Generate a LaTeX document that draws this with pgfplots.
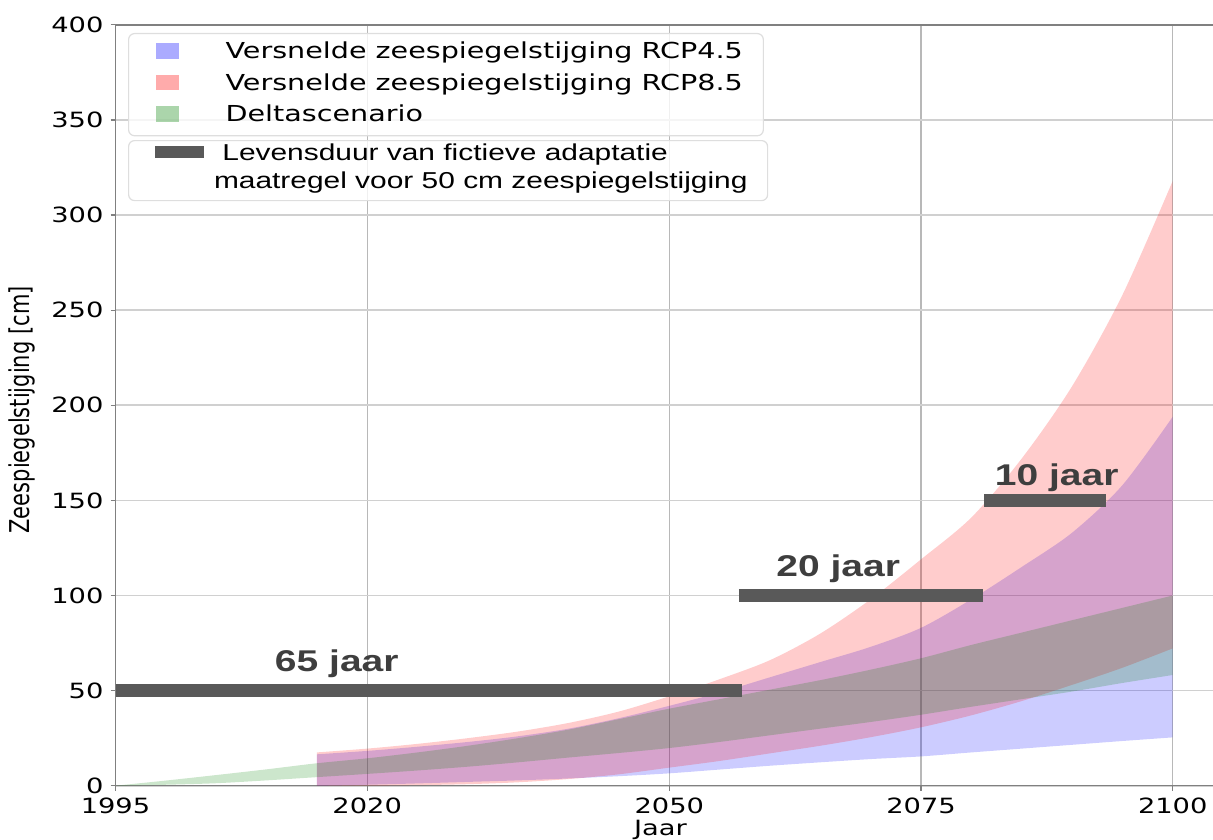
\documentclass[border=0pt]{standalone}
\usepackage{fontspec}
\setmainfont{DejaVu Sans}[FakeStretch=1.3]
\newfontfamily\dvplain{DejaVu Sans}
\newfontfamily\arialS{Liberation Sans}[FakeStretch=1.3]
\usepackage{graphicx}
\usepackage{pgfplots}
\usepackage{pgfplotstable}
\pgfplotsset{compat=1.18}
\usepgfplotslibrary{fillbetween}

\definecolor{mplblue}{RGB}{0,0,255}
\definecolor{mplred}{RGB}{255,0,0}
\definecolor{mplgreen}{RGB}{0,128,0}
\definecolor{bargray}{RGB}{89,89,89}
\definecolor{txtgray}{RGB}{62,62,62}
\definecolor{spine}{RGB}{128,128,128}
\definecolor{gridv}{RGB}{184,184,184}
\definecolor{gridh}{RGB}{208,208,208}
\definecolor{legframe}{RGB}{222,222,222}

% RCP4.5
\pgfplotstableread{
year lo hi
2015 0.0 16.5
2020 0.5 18.3
2025 1.2 20.5
2030 2.0 23.0
2035 2.8 26.0
2040 3.8 30.0
2045 5.0 35.5
2050 6.5 42.0
2055 8.5 49.0
2060 10.5 57.0
2065 12.3 65.0
2070 14.0 73.0
2075 15.4 83.0
2080 17.5 98.0
2085 19.5 115.0
2090 21.5 133.0
2095 23.5 158.0
2100 25.4 194.0
}\blueband

% RCP8.5
\pgfplotstableread{
year lo hi
2015 0.0 17.5
2020 0.0 19.5
2025 0.3 22.0
2030 0.8 25.0
2035 1.8 28.5
2040 3.5 33.0
2045 6.0 39.0
2050 9.5 47.0
2055 13.0 56.0
2060 17.0 66.0
2065 21.0 80.0
2070 25.5 98.0
2075 30.7 119.0
2080 37.0 141.0
2085 44.5 172.0
2090 53.0 210.0
2095 62.0 258.0
2100 72.2 318.0
}\redband

% Deltascenario
\pgfplotstableread{
year lo hi
1995 0.0 0.0
2000 0.5 2.7
2005 1.3 5.6
2010 2.8 8.6
2015 4.5 11.8
2020 6.2 14.4
2025 8.0 17.5
2030 10.0 21.0
2035 12.3 25.0
2040 14.8 29.5
2045 17.2 35.0
2050 19.8 40.5
2055 23.0 45.5
2060 26.5 50.5
2065 30.0 55.5
2070 33.5 61.0
2075 37.3 67.0
2080 41.5 74.0
2085 45.5 80.5
2090 49.5 87.0
2095 54.0 93.5
2100 58.2 100.0
}\greenband

\pgfplotsset{mylegend/.style={legend image code/.code={%
  \fill[##1, draw=none, sharp corners, fill opacity=0.33] (0pt,0pt) rectangle (11.5pt,7.8pt);
  \path (-3.25pt,0pt) (35pt,0pt);}}}

\begin{document}
\begin{tikzpicture}
\begin{axis}[
  name=ax,
  scale only axis, width=548.75pt, height=380.4pt,
  xmin=1995, xmax=2104, ymin=0, ymax=400,
  axis y line*=left,
  xtick={1995,2020,2050,2075,2100},
  ytick={0,50,...,400},
  xtick pos=lower, ytick pos=left,
  tick align=outside, major tick length=2.5pt,
  tick style={spine, line width=0.6pt},
  axis line style={spine, line width=0.75pt},
  grid=major,
  x grid style={gridv, line width=0.6pt},
  y grid style={gridh, line width=0.8pt},
  /pgf/number format/assume math mode=true,
  /pgf/number format/1000 sep={},
  ticklabel style={font=\fontsize{10.5}{12}\selectfont},
  xlabel={Jaar},
  xlabel style={at={(axis description cs:0.4966,0)}, anchor=base, yshift=-24.65pt, font=\fontsize{10.5}{12}\selectfont},
  ylabel={\scalebox{1}[1.3]{\dvplain\fontsize{10.5}{12}\selectfont Zeespiegelstijging [cm]}},
  ylabel style={at={(axis description cs:-0.0852,0.494)}, anchor=center},
  legend style={at={(axis description cs:0.0114,0.9894)}, anchor=north west,
    draw=legframe, line width=0.6pt, rounded corners=3pt, fill=white,
    fill opacity=0.8, text opacity=1, draw opacity=1,
    inner xsep=10.25pt, inner ysep=4.6pt, row sep=5.2pt, column sep=0pt,
    font=\fontsize{11}{13}\selectfont,
    nodes={inner sep=0pt, text height=8pt, text depth=2.5pt, anchor=base west}},
  legend cell align=left,
]
\addplot[draw=none, smooth, name path=bl, forget plot] table[x=year,y=lo]{\blueband};
\addplot[draw=none, smooth, name path=bu, forget plot] table[x=year,y=hi]{\blueband};
\addplot[fill=mplblue, fill opacity=0.2, draw=none, mylegend] fill between[of=bu and bl];
\addlegendentry{Versnelde zeespiegelstijging RCP4.5}

\addplot[draw=none, smooth, name path=rl, forget plot] table[x=year,y=lo]{\redband};
\addplot[draw=none, smooth, name path=ru, forget plot] table[x=year,y=hi]{\redband};
\addplot[fill=mplred, fill opacity=0.2, draw=none, mylegend] fill between[of=ru and rl];
\addlegendentry{Versnelde zeespiegelstijging RCP8.5}

\addplot[draw=none, smooth, name path=gl, forget plot] table[x=year,y=lo]{\greenband};
\addplot[draw=none, smooth, name path=gu, forget plot] table[x=year,y=hi]{\greenband};
\addplot[fill=mplgreen, fill opacity=0.2, draw=none, mylegend] fill between[of=gu and gl];
\addlegendentry{Deltascenario}

% lifetime bars
\addplot[bargray, line width=6.15pt, forget plot] coordinates {(1995,50) (2057.2,50)};
\addplot[bargray, line width=6.15pt, forget plot] coordinates {(2056.9,100) (2081.2,100)};
\addplot[bargray, line width=6.15pt, forget plot] coordinates {(2081.3,150) (2093.4,150)};

\node[anchor=base west, inner sep=0pt, text=txtgray, font=\arialS\bfseries\fontsize{15}{18}\selectfont] at (axis cs:2010.8,60) {65 jaar};
\node[anchor=base west, inner sep=0pt, text=txtgray, font=\arialS\bfseries\fontsize{15}{18}\selectfont] at (axis cs:2060.6,110) {20 jaar};
\node[anchor=base west, inner sep=0pt, text=txtgray, font=\arialS\bfseries\fontsize{15}{18}\selectfont] at (axis cs:2082.3,158) {10 jaar};

\node[draw=legframe, line width=0.6pt, rounded corners=3pt, fill=white, fill opacity=0.8,
  text opacity=1, draw opacity=1, minimum width=319.5pt, minimum height=30pt,
  inner sep=0pt, anchor=north west] (L2) at (axis description cs:0.0114,0.8487) {};
\end{axis}
\node[anchor=north west, inner sep=0pt] at ([shift={(13.5pt,-3pt)}]L2.north west) {\textcolor{bargray}{\rule{24.5pt}{6pt}}};
\node[anchor=base west, inner sep=0pt, font=\arialS\fontsize{11.5}{14}\selectfont] at ([shift={(47pt,-10pt)}]L2.north west) {Levensduur van fictieve adaptatie};
\node[anchor=base west, inner sep=0pt, font=\arialS\fontsize{11.5}{14}\selectfont] at ([shift={(42.8pt,-24pt)}]L2.north west) {maatregel voor 50 cm zeespiegelstijging};
\pgfresetboundingbox
\path[use as bounding box] ([shift={(-57.75pt,-26.65pt)}]ax.south west) rectangle ([yshift=12.45pt]ax.north east);
\end{tikzpicture}
\end{document}
